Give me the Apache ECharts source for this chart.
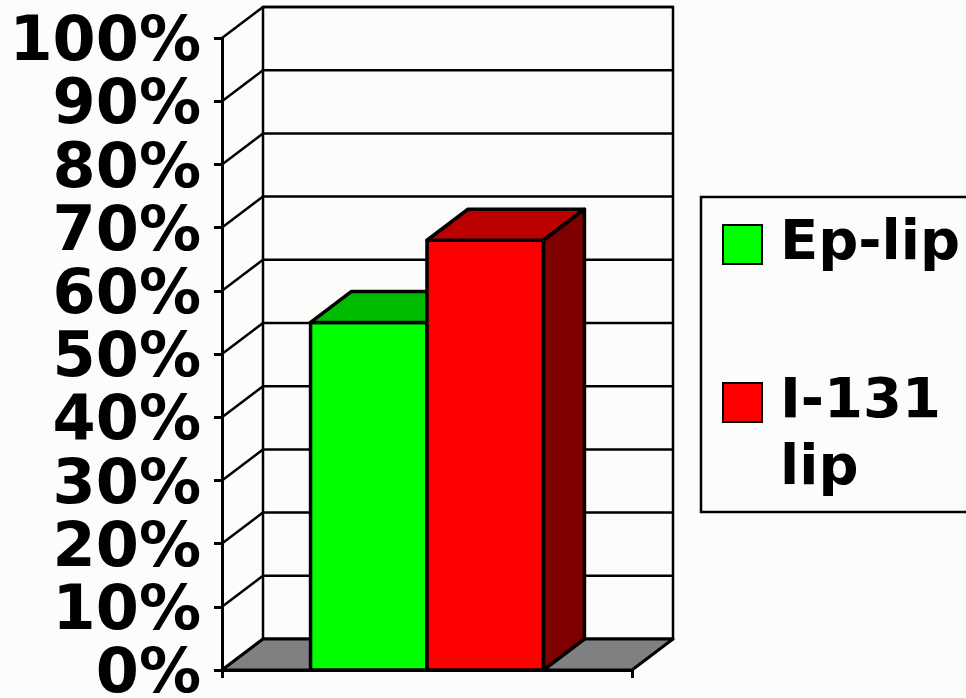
<!DOCTYPE html>
<html><head><meta charset="utf-8">
<script src="https://cdn.jsdelivr.net/npm/echarts@6/dist/echarts.min.js"></script>
<style>html,body{margin:0;padding:0;background:#fcfcfa}#c{width:966px;height:698px}</style>
</head><body><div id="c"></div>
<script>
// ---- data ----
const categories = [''];
const seriesNames = ['Ep-lip', 'I-131 lip'];
const epLip = [55];
const i131Lip = [68];
const yTicks = [0, 10, 20, 30, 40, 50, 60, 70, 80, 90, 100];

// ---- style ----
const BG = '#fcfcfa';
const DX = 41, DY = -31;
const FONT = '"DejaVu Sans", Verdana, sans-serif';
const BAR_FRAC = 0.284;
const faces = [
  { front: '#00ff00', top: '#00bc00', side: '#007f00' },
  { front: '#ff0000', top: '#bc0000', side: '#7f0000' }
];

function bandOf(api, cat) {
  const c = api.coord([cat, 0]);
  const band = api.size([1, 0])[0];
  return { x0: c[0] - band / 2, x1: c[0] + band / 2, y0: c[1], band: band, cx: c[0] };
}

function panelRender(params, api) {
  const b = bandOf(api, 0);
  const yTop = api.coord([0, yTicks[yTicks.length - 1]])[1];
  return {
    type: 'rect', shape: { x: b.x0 + DX, y: yTop + DY, width: b.band, height: b.y0 - yTop },
    style: { fill: BG, stroke: '#000', lineWidth: 2.5 }
  };
}
function gridRender(params, api) {
  const v = api.value(0);
  const b = bandOf(api, 0);
  const y = api.coord([0, v])[1];
  const ls = { stroke: '#000', lineWidth: 2.5 };
  return {
    type: 'group', children: [
      { type: 'line', shape: { x1: b.x0, y1: y, x2: b.x0 + DX, y2: y + DY }, style: ls },
      { type: 'line', shape: { x1: b.x0 + DX, y1: y + DY, x2: b.x1 + DX, y2: y + DY }, style: ls }
    ]
  };
}
function floorRender(params, api) {
  const b = bandOf(api, 0);
  return {
    type: 'polygon',
    shape: { points: [[b.x0, b.y0], [b.x0 + DX, b.y0 + DY], [b.x1 + DX, b.y0 + DY], [b.x1, b.y0]] },
    style: { fill: '#808080', stroke: '#000', lineWidth: 3, lineJoin: 'round' }
  };
}
function barRender(si) {
  return function (params, api) {
    const cat = api.value(0), v = api.value(1);
    const b = bandOf(api, cat);
    const yt = api.coord([cat, v])[1];
    const yb = b.y0;
    const w = b.band * BAR_FRAC;
    const n = seriesNames.length;
    const xl = b.cx + (si - n / 2) * w;
    const xr = xl + w;
    const f = faces[si];
    const ls = { stroke: '#000', lineWidth: 3.5, lineJoin: 'round' };
    return {
      type: 'group', children: [
        { type: 'polygon', shape: { points: [[xl, yb], [xr, yb], [xr, yt], [xl, yt]] },
          style: Object.assign({ fill: f.front }, ls) },
        { type: 'polygon', shape: { points: [[xl, yt], [xr, yt], [xr + DX, yt + DY], [xl + DX, yt + DY]] },
          style: Object.assign({ fill: f.top }, ls) },
        { type: 'polygon', shape: { points: [[xr, yb], [xr + DX, yb + DY], [xr + DX, yt + DY], [xr, yt]] },
          style: Object.assign({ fill: f.side }, ls) }
      ]
    };
  };
}

const values = [epLip, i131Lip];
const chart = echarts.init(document.getElementById('c'), null, { renderer: 'canvas' });
chart.setOption({
  backgroundColor: BG,
  animation: false,
  grid: { left: 222, right: 334, top: 38, bottom: 28, containLabel: false, outerBoundsMode: 'none' },
  xAxis: {
    type: 'category', data: categories, boundaryGap: true,
    axisLine: { show: true, lineStyle: { color: '#000', width: 3 } },
    axisTick: { show: true, length: 8, lineStyle: { color: '#000', width: 3 } },
    axisLabel: { show: false }, splitLine: { show: false }
  },
  yAxis: {
    type: 'value', min: 0, max: 100, interval: 10,
    axisLine: { show: true, lineStyle: { color: '#000', width: 3 } },
    axisTick: { show: true, length: 8, lineStyle: { color: '#000', width: 3 } },
    axisLabel: { formatter: '{value}%', fontFamily: FONT, fontWeight: 'bold', fontSize: 62, color: '#000', margin: 21,
                 verticalAlign: 'top', lineHeight: 12 },
    splitLine: { show: false }
  },
  legend: {
    orient: 'vertical', left: 722, top: 211, itemGap: 24, padding: 0,
    itemWidth: 39, itemHeight: 39, icon: 'rect',
    data: seriesNames.map((n, i) => ({ name: n, itemStyle: { color: faces[i].front, borderColor: '#000', borderWidth: 2 } })),
    formatter: n => n.indexOf(' ') >= 0 ? '\n' + n.split(' ').join('\n') : n,
    textStyle: { fontFamily: FONT, fontWeight: 'bold', fontSize: 56, color: '#000', lineHeight: 67, padding: [0, 0, 0, 13] }
  },
  graphic: [{
    type: 'rect', z: 1, shape: { x: 701, y: 197, width: 320, height: 315 },
    style: { fill: BG, stroke: '#000', lineWidth: 2.5 }
  }],
  series: [
    { type: 'custom', name: 'panel', renderItem: panelRender, data: [[0]], z: 1, silent: true },
    { type: 'custom', name: 'grid', renderItem: gridRender, data: yTicks.map(v => [v]), z: 1, silent: true },
    { type: 'custom', name: 'floor', renderItem: floorRender, data: [[0]], z: 1, silent: true }
  ].concat(seriesNames.map((n, i) => ({
    type: 'custom', name: n, renderItem: barRender(i), z: 3,
    itemStyle: { color: faces[i].front },
    data: values[i].map((v, k) => [k, v])
  })))
});
</script></body></html>
